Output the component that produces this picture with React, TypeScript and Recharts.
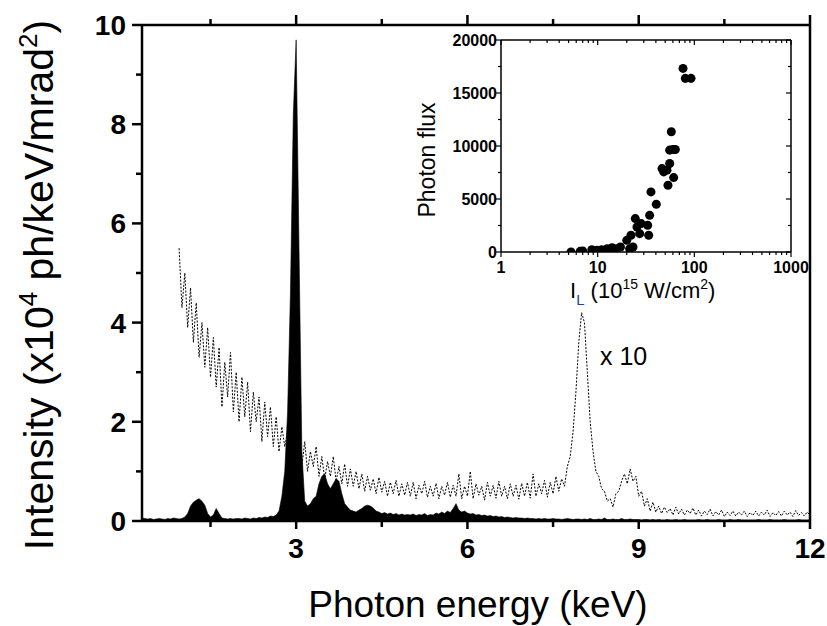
import React from 'react';
import { ComposedChart, Area, Line, XAxis, YAxis, ScatterChart, Scatter } from 'recharts';

// Spectrum channels: 0.30 – 12.00 keV, 0.05 keV per channel
const E_START = 0.3;
const E_STEP = 0.05;

// measured spectrum (x10^4 ph/keV/mrad^2), filled black
const spectrum = [
  // 0.30 – 0.95
  0.06, 0.05, 0.04, 0.05, 0.03, 0.04, 0.05, 0.04, 0.03, 0.05, 0.04, 0.06, 0.05, 0.04,
  // 1.00 – 1.95
  0.05, 0.08, 0.15, 0.3, 0.38, 0.42, 0.45, 0.4, 0.32, 0.15, 0.08, 0.12, 0.25, 0.15, 0.06, 0.05, 0.04, 0.05, 0.04, 0.05,
  // 2.00 – 2.95
  0.05, 0.04, 0.06, 0.05, 0.04, 0.06, 0.05, 0.07, 0.06, 0.08, 0.07, 0.1, 0.09, 0.12, 0.2, 0.5, 1.0, 2.2, 4.6, 8.2,
  // 3.00 – 3.95
  9.7, 5.5, 1.4, 0.4, 0.3, 0.35, 0.45, 0.5, 0.75, 0.9, 0.95, 0.75, 0.65, 0.75, 0.85, 0.8, 0.55, 0.35, 0.28, 0.22,
  // 4.00 – 4.95
  0.2, 0.18, 0.22, 0.25, 0.3, 0.32, 0.3, 0.26, 0.2, 0.18, 0.15, 0.17, 0.14, 0.16, 0.13, 0.15, 0.12, 0.14, 0.12, 0.13,
  // 5.00 – 5.95
  0.12, 0.14, 0.11, 0.13, 0.12, 0.15, 0.11, 0.13, 0.12, 0.16, 0.14, 0.18, 0.15, 0.2, 0.17, 0.25, 0.35, 0.22, 0.18, 0.2,
  // 6.00 – 6.95
  0.16, 0.14, 0.15, 0.12, 0.13, 0.11, 0.12, 0.1, 0.11, 0.09, 0.1, 0.08, 0.09, 0.07, 0.08, 0.07, 0.06, 0.07, 0.06, 0.06,
  // 7.00 – 7.95
  0.05, 0.06, 0.05, 0.05, 0.04, 0.05, 0.04, 0.05, 0.04, 0.04, 0.05, 0.04, 0.04, 0.03, 0.04, 0.05, 0.04, 0.03, 0.04, 0.04,
  // 8.00 – 8.95
  0.03, 0.04, 0.03, 0.05, 0.03, 0.03, 0.04, 0.03, 0.06, 0.03, 0.03, 0.04, 0.03, 0.03, 0.05, 0.03, 0.03, 0.04, 0.03, 0.03,
  // 9.00 – 9.95
  0.03, 0.02, 0.03, 0.03, 0.02, 0.03, 0.02, 0.03, 0.02, 0.02, 0.03, 0.02, 0.02, 0.03, 0.02, 0.02, 0.03, 0.02, 0.02, 0.02,
  // 10.00 – 10.95
  0.02, 0.03, 0.02, 0.02, 0.03, 0.02, 0.02, 0.02, 0.03, 0.02, 0.02, 0.02, 0.03, 0.02, 0.02, 0.03, 0.02, 0.02, 0.02, 0.02,
  // 11.00 – 11.95
  0.02, 0.02, 0.03, 0.02, 0.02, 0.02, 0.03, 0.02, 0.02, 0.02, 0.02, 0.03, 0.02, 0.02, 0.02, 0.02, 0.03, 0.02, 0.02, 0.02,
  // 12.00
  0.02,
];

// x10 magnified trace (dotted), starts at 0.95 keV
const X10_START = 0.95;
const x10Trace = [
  // 0.95
  5.5,
  // 1.00 – 1.95
  4.3, 5.0, 3.9, 4.7, 3.6, 4.4, 3.3, 4.0, 3.1, 3.9, 2.9, 3.7, 2.7, 3.5, 2.3, 3.2, 2.5, 3.4, 2.2, 3.0,
  // 2.00 – 2.95
  2.0, 2.9, 2.1, 2.8, 1.8, 2.6, 2.0, 2.5, 1.6, 2.4, 1.7, 2.3, 1.5, 2.1, 1.4, 1.9, 1.5, 1.8, 1.2, 1.7,
  // 3.00 – 3.95
  1.2, 1.7, 1.1, 1.6, 1.0, 1.4, 1.1, 1.5, 0.9, 1.3, 0.85, 1.2, 0.9, 1.3, 0.8, 1.1, 0.75, 1.15, 0.7, 1.05,
  // 4.00 – 4.95
  0.7, 1.0, 0.65, 0.95, 0.6, 0.9, 0.62, 0.85, 0.55, 0.88, 0.58, 0.8, 0.5, 0.78, 0.55, 0.82, 0.5, 0.75, 0.52, 0.78,
  // 5.00 – 5.95
  0.5, 0.78, 0.45, 0.72, 0.55, 0.8, 0.48, 0.7, 0.5, 0.76, 0.45, 0.7, 0.52, 0.78, 0.48, 0.72, 0.5, 0.95, 0.45, 0.7,
  // 6.00 – 6.95
  0.5, 1.0, 0.45, 0.75, 0.52, 0.7, 0.42, 0.78, 0.5, 0.72, 0.46, 0.8, 0.5, 0.7, 0.45, 0.75, 0.5, 0.72, 0.44, 0.76,
  // 7.00 – 7.95
  0.5, 0.78, 0.46, 0.95, 0.5, 0.75, 0.55, 0.82, 0.48, 0.78, 0.55, 0.9, 0.6, 0.85, 0.7, 1.1, 1.3, 1.8, 2.6, 3.6,
  // 8.00 – 8.95
  4.2, 4.0, 3.0, 2.0, 1.4, 1.0, 0.9, 0.65, 0.6, 0.4, 0.45, 0.28, 0.55, 0.6, 0.8, 0.95, 0.75, 1.05, 0.8, 0.9,
  // 9.00 – 9.95
  0.5, 0.6, 0.3, 0.45, 0.2, 0.38, 0.18, 0.3, 0.15, 0.28, 0.17, 0.25, 0.12, 0.28, 0.14, 0.24, 0.12, 0.22, 0.15, 0.26,
  // 10.00 – 10.95
  0.12, 0.22, 0.1, 0.2, 0.13, 0.24, 0.1, 0.19, 0.12, 0.22, 0.09, 0.18, 0.11, 0.2, 0.1, 0.18, 0.12, 0.2, 0.09, 0.17,
  // 11.00 – 11.95
  0.11, 0.2, 0.1, 0.18, 0.12, 0.22, 0.09, 0.17, 0.11, 0.19, 0.1, 0.2, 0.12, 0.18, 0.09, 0.21, 0.11, 0.17, 0.1, 0.18,
  // 12.00
  0.12,
];

const energyTicks = [1.5, 3, 4.5, 6, 7.5, 9, 10.5, 12];
const energyLabels = [3, 6, 9, 12];
const intensityTicks = [0, 1, 2, 3, 4, 5, 6, 7, 8, 9, 10];
const intensityLabels = [0, 2, 4, 6, 8, 10];

// inset: laser intensity (10^15 W/cm^2) vs photon flux
const laserIntensity = [
  5.3, 6.6, 7.0, 8.7, 9.8, 11.0, 12.5, 14.1, 15.8, 17.2, 20.0, 21.4, 22.1, 23.2, 24.5, 25.5, 27.2, 28.2,
  32.9, 33.7, 34.5, 35.6, 40.4, 46.3, 48.2, 52.1, 53.4, 55.6, 57.8, 55.6, 60.1, 61.1, 63.6, 76.4, 80.7, 92.4,
];
const photonFlux = [
  0, 60, 100, 220, 160, 220, 300, 400, 300, 470, 1100, 300, 1580, 470, 3150, 2360, 1730, 2680,
  2520, 1580, 3460, 5670, 4500, 7870, 7560, 7720, 6300, 8350, 11340, 9610, 9670, 7020, 9670, 17320, 16380, 16380,
];
const fluxTicks = [0, 2500, 5000, 7500, 10000, 12500, 15000, 17500, 20000];
const fluxLabels = [0, 5000, 10000, 15000, 20000];
const ilTicks = [
  1, 2, 3, 4, 5, 6, 7, 8, 9, 10, 20, 30, 40, 50, 60, 70, 80, 90,
  100, 200, 300, 400, 500, 600, 700, 800, 900, 1000,
];
const ilLabels = [1, 10, 100, 1000];

const FONT = '"Liberation Sans", Arial, sans-serif';

const spectrumRows = spectrum.map((v, i) => {
  const e = Math.round((E_START + i * E_STEP) * 100) / 100;
  const j = Math.round((e - X10_START) / E_STEP);
  return { e, spectrum: v, x10: j >= 0 && j < x10Trace.length ? x10Trace[j] : null };
});

const insetRows = laserIntensity.map((il, i) => ({ il, flux: photonFlux[i] }));

// ---- main chart ticks ----
const MainLeftTick = ({ x, y, payload }: any) => {
  const major = intensityLabels.includes(payload.value);
  return (
    <g>
      <line x1={x} x2={x - (major ? 10 : 6)} y1={y} y2={y} stroke="#000" strokeWidth={2.5} />
      {major && (
        <text x={x - 16} y={y + 10} textAnchor="end" fontSize={28} fontWeight="bold" fontFamily={FONT} fill="#000">
          {payload.value}
        </text>
      )}
    </g>
  );
};

const MainBottomTick = ({ x, y, payload }: any) => {
  const major = energyLabels.includes(payload.value);
  return (
    <g>
      <line x1={x} x2={x} y1={y} y2={y + (major ? 8 : 6)} stroke="#000" strokeWidth={2.5} />
      {major && (
        <text x={x} y={y + 37} textAnchor="middle" fontSize={28} fontWeight="bold" fontFamily={FONT} fill="#000">
          {payload.value}
        </text>
      )}
    </g>
  );
};

const MainTopTick = ({ x, y, payload }: any) => {
  const major = energyLabels.includes(payload.value);
  return <line x1={x} x2={x} y1={y} y2={y - (major ? 10 : 6)} stroke="#000" strokeWidth={2.5} />;
};

// ---- inset ticks ----
const InsetBottomTick = ({ x, y, payload }: any) => {
  const major = ilLabels.includes(payload.value);
  return (
    <g>
      <line x1={x} x2={x} y1={y} y2={y + (major ? 5 : 3)} stroke="#000" strokeWidth={1.2} />
      {major && (
        <text x={x} y={y + 21} textAnchor="middle" fontSize={16} fontWeight="bold" fontFamily={FONT} fill="#000">
          {payload.value}
        </text>
      )}
    </g>
  );
};

const InsetTopTick = ({ x, y, payload }: any) => {
  const major = ilLabels.includes(payload.value);
  return <line x1={x} x2={x} y1={y} y2={y + (major ? 5 : 3)} stroke="#000" strokeWidth={1.2} />;
};

const InsetLeftTick = ({ x, y, payload }: any) => {
  const major = fluxLabels.includes(payload.value);
  return (
    <g>
      <line x1={x} x2={x - (major ? 5 : 3)} y1={y} y2={y} stroke="#000" strokeWidth={1.2} />
      {major && (
        <text x={x - 4} y={y + 6} textAnchor="end" fontSize={16} fontWeight="bold" fontFamily={FONT} fill="#000">
          {payload.value}
        </text>
      )}
    </g>
  );
};

const InsetRightTick = ({ x, y, payload }: any) => {
  const major = fluxLabels.includes(payload.value);
  return <line x1={x} x2={x - (major ? 5 : 3)} y1={y} y2={y} stroke="#000" strokeWidth={1.2} />;
};

export default function App() {
  return (
    <div style={{ position: 'absolute', left: 0, top: 0, width: 827, height: 626, background: '#fff' }}>
      <div style={{ position: 'absolute', left: 0, top: 0 }}>
        <ComposedChart width={827} height={626} data={spectrumRows} margin={{ top: 24, right: 16, bottom: 104, left: 141 }}>
          <XAxis
            dataKey="e"
            type="number"
            domain={[0.3, 12]}
            allowDataOverflow
            ticks={energyTicks}
            interval={0}
            height={1}
            tickSize={0}
            tickMargin={0}
            tickLine={false}
            axisLine={{ stroke: '#000', strokeWidth: 2.5 }}
            tick={MainBottomTick}
          />
          <XAxis
            xAxisId="top"
            orientation="top"
            dataKey="e"
            type="number"
            domain={[0.3, 12]}
            allowDataOverflow
            ticks={energyTicks}
            interval={0}
            height={1}
            tickSize={0}
            tickMargin={0}
            tickLine={false}
            axisLine={{ stroke: '#000', strokeWidth: 2.5 }}
            tick={MainTopTick}
          />
          <YAxis
            type="number"
            domain={[0, 10]}
            allowDataOverflow
            ticks={intensityTicks}
            interval={0}
            width={1}
            tickSize={0}
            tickMargin={0}
            tickLine={false}
            axisLine={{ stroke: '#000', strokeWidth: 2.5 }}
            tick={MainLeftTick}
          />
          <YAxis
            yAxisId="right"
            orientation="right"
            type="number"
            domain={[0, 10]}
            allowDataOverflow
            width={1}
            tick={false}
            tickLine={false}
            axisLine={{ stroke: '#000', strokeWidth: 2.5 }}
          />
          <Area
            type="linear"
            dataKey="spectrum"
            stroke="#000"
            strokeWidth={0.6}
            fill="#000"
            fillOpacity={1}
            isAnimationActive={false}
          />
          <Line
            type="linear"
            dataKey="x10"
            stroke="#000"
            strokeWidth={1}
            strokeDasharray="2 1.5"
            dot={false}
            connectNulls={false}
            isAnimationActive={false}
          />
        </ComposedChart>
      </div>

      <div style={{ position: 'absolute', left: 0, top: 0 }}>
        <ScatterChart width={827} height={626} margin={{ top: 39, right: 35, bottom: 373, left: 500 }}>
          <XAxis
            dataKey="il"
            type="number"
            scale="log"
            domain={[1, 1000]}
            allowDataOverflow
            ticks={ilTicks}
            interval={0}
            height={1}
            tickSize={0}
            tickMargin={0}
            tickLine={false}
            axisLine={{ stroke: '#000', strokeWidth: 1.5 }}
            tick={InsetBottomTick}
          />
          <XAxis
            xAxisId="top"
            orientation="top"
            dataKey="il"
            type="number"
            scale="log"
            domain={[1, 1000]}
            allowDataOverflow
            ticks={ilTicks}
            interval={0}
            height={1}
            tickSize={0}
            tickMargin={0}
            tickLine={false}
            axisLine={{ stroke: '#000', strokeWidth: 1.5 }}
            tick={InsetTopTick}
          />
          <YAxis
            dataKey="flux"
            type="number"
            domain={[0, 20000]}
            allowDataOverflow
            ticks={fluxTicks}
            interval={0}
            width={1}
            tickSize={0}
            tickMargin={0}
            tickLine={false}
            axisLine={{ stroke: '#000', strokeWidth: 1.5 }}
            tick={InsetLeftTick}
          />
          <YAxis
            yAxisId="right"
            orientation="right"
            type="number"
            domain={[0, 20000]}
            allowDataOverflow
            ticks={fluxTicks}
            interval={0}
            width={1}
            tickSize={0}
            tickMargin={0}
            tickLine={false}
            axisLine={{ stroke: '#000', strokeWidth: 1.5 }}
            tick={InsetRightTick}
          />
          <Scatter data={insetRows} fill="#000" shape="circle" isAnimationActive={false} />
        </ScatterChart>
      </div>

      <svg width={827} height={626} style={{ position: 'absolute', left: 0, top: 0, pointerEvents: 'none' }}>
        <text x={478} y={617} textAnchor="middle" fontSize={37} fontFamily={FONT} fill="#000">
          Photon energy (keV)
        </text>
        <text
          x={53}
          y={285}
          transform="rotate(-90 53 285)"
          textAnchor="middle"
          fontSize={41}
          fontFamily={FONT}
          fill="#000"
        >
          Intensity (x10
          <tspan dy={-16} fontSize={26}>4</tspan>
          <tspan dy={16}>{'  ph/keV/mrad'}</tspan>
          <tspan dy={-16} fontSize={26}>2</tspan>
          <tspan dy={16}>)</tspan>
        </text>
        <text x={600} y={365} fontSize={25} fontFamily={FONT} fill="#000">
          x 10
        </text>
        <text
          x={435}
          y={160}
          transform="rotate(-90 435 160)"
          textAnchor="middle"
          fontSize={23}
          fontFamily={FONT}
          fill="#000"
        >
          Photon flux
        </text>
        <text x={570} y={298} fontSize={22} fontFamily={FONT} fill="#000">
          I
          <tspan dy={7} fontSize={15} fill="#2a3f9a">L</tspan>
          <tspan dy={-7}>{' (10'}</tspan>
          <tspan dy={-9} fontSize={14}>15</tspan>
          <tspan dy={9}>{' W/cm'}</tspan>
          <tspan dy={-9} fontSize={14}>2</tspan>
          <tspan dy={9}>)</tspan>
        </text>
      </svg>
    </div>
  );
}
